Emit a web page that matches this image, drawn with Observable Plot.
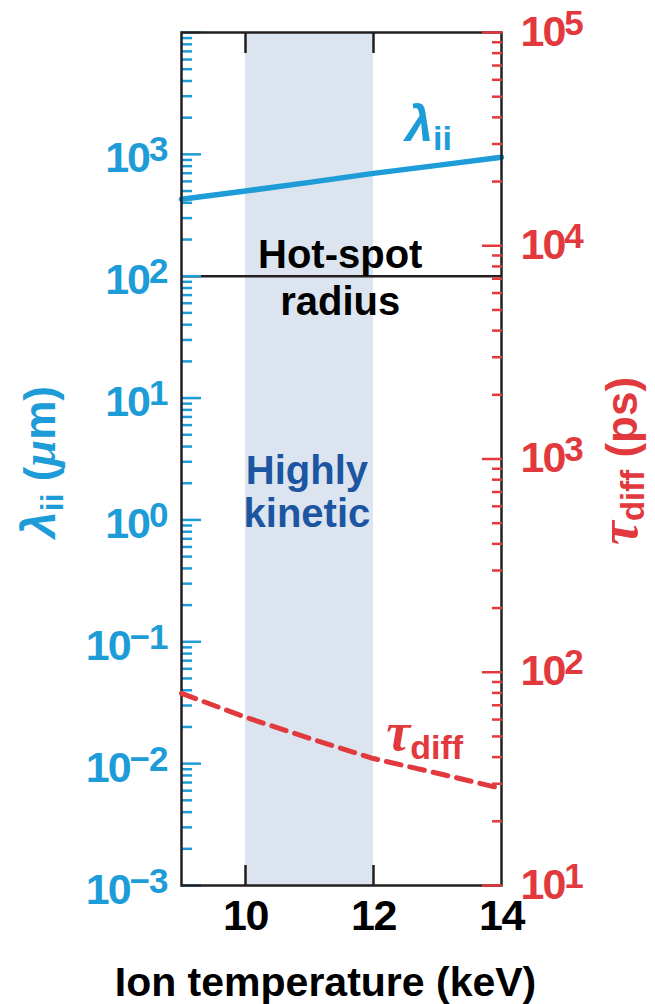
<!DOCTYPE html>
<html><head><meta charset="utf-8">
<script src="https://cdn.jsdelivr.net/npm/d3@7"></script>
<script src="https://cdn.jsdelivr.net/npm/@observablehq/plot@0.6"></script>
<style>
html,body{margin:0;padding:0;background:#fff;}
#wrap{position:relative;width:655px;height:1004px;overflow:hidden;background:#fff;}
#wrap svg{position:absolute;left:0;top:0;}
</style></head><body><div id="wrap"></div>
<script>
// ---- data ----
const temperature = [9, 10, 11, 12, 13, 14];            // keV
const lambdaII = [428, 500, 589, 698, 812, 945];        // µm (left axis)
const tauDiff = [79.6, 61.5, 49, 39.4, 33.6, 28.5];     // ps (right axis)
const hotSpotRadius = [100];                            // µm
const kineticBand = [{start: 10, end: 12}];             // keV
const xTicks = [10, 12, 14];
const leftTickExponents = [-3, -2, -1, 0, 1, 2, 3, 4];
const leftLabelExponents = [-3, -2, -1, 0, 1, 2, 3];
const rightExponents = [1, 2, 3, 4, 5];
const xLabel = "Ion temperature (keV)";
const leftLabel = "λii (μm)";
const rightLabel = "τdiff (ps)";
const hotSpotText = "Hot-spot\nradius";
const kineticText = "Highly\nkinetic";
const kineticAt = {t: 10.96, v: 1.71};
const lambdaTextAt = {t: 12.86, v: 1700};
const tauTextAt = {t: 12.8, v: 50.6};
const hotSpotTextAt = {t: 11.48};

// ---- derived ----
const lambdaRows = temperature.map((t, i) => ({t, v: lambdaII[i]}));
const tauRows = temperature.map((t, i) => ({t, v: tauDiff[i]}));
const minors = (lo, hi) => { const a = []; for (let k = lo; k < hi; k++) for (let m = 2; m <= 9; m++) a.push(m * 10 ** k); return a; };
const leftMajor = leftTickExponents.map(e => 10 ** e);
const leftMinor = minors(-3, 4);
const rightMajor = rightExponents.map(e => 10 ** e);
const rightMinor = minors(1, 5);

const W = 655, H = 1004;
const M = {marginLeft: 181, marginRight: 154, marginTop: 32, marginBottom: 119};
const FONT = "'Liberation Sans', Arial, Helvetica, sans-serif";
const SERIF = "'Liberation Serif', 'DejaVu Serif', serif";
const BLUE = "#1e9cd8", RED = "#e1393e", NAVY = "#1c55a1", INK = "#231f20", BAND = "#dce5ef";
const bold = {fontWeight: "bold"};

const p1 = Plot.plot({
  width: W, height: H, ...M,
  style: {fontFamily: FONT, background: "transparent", overflow: "visible"},
  x: {type: "linear", domain: [9, 14], axis: null},
  y: {type: "log", domain: [1e-3, 1e4], axis: null},
  marks: [
    Plot.rect(kineticBand, {x1: "start", x2: "end", fill: BAND}),
    Plot.ruleY(hotSpotRadius, {stroke: INK, strokeWidth: 2.5}),
    Plot.line(lambdaRows, {x: "t", y: "v", stroke: BLUE, strokeWidth: 5.5}),
    Plot.axisY({ticks: leftMajor, anchor: "left", tickSize: -20, stroke: BLUE, strokeWidth: 2.5, fill: "none", label: null, tickFormat: () => ""}),
    Plot.axisY({ticks: leftMinor, anchor: "left", tickSize: -11, stroke: BLUE, strokeWidth: 2.5, fill: "none", label: null, tickFormat: () => ""}),
    Plot.axisX({ticks: [10, 12], anchor: "bottom", tickSize: -20, stroke: INK, strokeWidth: 2.5, fill: "none", label: null, tickFormat: () => ""}),
    Plot.axisX({ticks: [10, 12], anchor: "top", tickSize: -20, stroke: INK, strokeWidth: 2.5, fill: "none", label: null, tickFormat: () => ""}),
    Plot.frame({stroke: INK, strokeWidth: 2.5}),
    Plot.text(leftLabelExponents, {y: d => 10 ** d, text: d => "10^" + d, frameAnchor: "left", textAnchor: "end", lineAnchor: "bottom", dx: -14, dy: 18, fill: BLUE, fontSize: 43, ...bold}),
    Plot.text(xTicks, {x: d => d, text: d => String(d), frameAnchor: "bottom", lineAnchor: "top", dy: 14, fill: "#000", fontSize: 43, ...bold}),
    Plot.text([xLabel], {text: d => d, frameAnchor: "bottom", textAnchor: "middle", lineAnchor: "bottom", dx: -16, dy: 110, fill: "#000", fontSize: 41, ...bold}),
    Plot.text([leftLabel], {text: d => d, frameAnchor: "left", textAnchor: "middle", lineAnchor: "middle", rotate: -90, dx: -141, dy: 3, fill: BLUE, fontSize: 44, ...bold}),
    Plot.text([hotSpotText], {x: () => hotSpotTextAt.t, y: () => hotSpotRadius[0], text: d => d, lineAnchor: "middle", lineHeight: 1.18, fill: "#000", fontSize: 40, ...bold}),
    Plot.text([kineticText], {x: () => kineticAt.t, y: () => kineticAt.v, text: d => d, lineAnchor: "middle", lineHeight: 1.08, fill: NAVY, fontSize: 40, ...bold}),
    Plot.text(["λii"], {x: () => lambdaTextAt.t, y: () => lambdaTextAt.v, text: d => d, lineAnchor: "middle", fill: BLUE, fontSize: 46, ...bold})
  ]
});

const p2 = Plot.plot({
  width: W, height: H, ...M,
  style: {fontFamily: FONT, background: "transparent", overflow: "visible"},
  x: {type: "linear", domain: [9, 14], axis: null},
  y: {type: "log", domain: [10, 1e5], axis: null},
  marks: [
    Plot.line(tauRows, {x: "t", y: "v", stroke: RED, strokeWidth: 5, strokeDasharray: "15,9"}),
    Plot.axisY({ticks: rightMajor, anchor: "right", tickSize: -20, stroke: RED, strokeWidth: 2.5, fill: "none", label: null, tickFormat: () => ""}),
    Plot.axisY({ticks: rightMinor, anchor: "right", tickSize: -10, stroke: RED, strokeWidth: 2.5, fill: "none", label: null, tickFormat: () => ""}),
    Plot.text(rightExponents, {y: d => 10 ** d, text: d => "10^" + d, frameAnchor: "right", textAnchor: "start", lineAnchor: "bottom", dx: 19, dy: 13, fill: RED, fontSize: 43, ...bold}),
    Plot.text([rightLabel], {text: d => d, frameAnchor: "right", textAnchor: "middle", lineAnchor: "middle", rotate: -90, dx: 121, dy: 2, fill: RED, fontSize: 44, ...bold}),
    Plot.text(["τdiff"], {x: () => tauTextAt.t, y: () => tauTextAt.v, text: d => d, lineAnchor: "middle", fill: RED, fontSize: 46, ...bold})
  ]
});

const wrap = document.getElementById("wrap");
wrap.appendChild(p1);
wrap.appendChild(p2);

function rich(svg, match, parts) {
  d3.select(svg).selectAll("text").filter(function() { return this.textContent === match; }).each(function() {
    const t = d3.select(this);
    t.text(null);
    for (const p of parts) {
      const s = t.append("tspan").text(p.t);
      if (p.size) s.attr("font-size", p.size);
      if (p.dy) s.attr("dy", p.dy);
      if (p.italic) s.attr("font-style", "italic");
      if (p.family) s.attr("font-family", p.family);
      if (p.ls != null) s.attr("letter-spacing", p.ls);
    }
  });
}
function exponents(svg) {
  d3.select(svg).selectAll("text").filter(function() { return /^10\^-?\d+$/.test(this.textContent); }).each(function() {
    const e = this.textContent.slice(3).replace("-", "−");
    const t = d3.select(this);
    t.text(null);
    t.append("tspan").attr("letter-spacing", -2).text("10");
    t.append("tspan").attr("font-size", 35).attr("dy", -11).attr("letter-spacing", -1).text(e);
  });
}
exponents(p1); exponents(p2);
rich(p1, leftLabel, [{t: "λ", size: 48, italic: true}, {t: "ii", size: 32, dy: 8}, {t: " (", size: 44, dy: -8}, {t: "μ", size: 48, italic: true, family: SERIF}, {t: "m)", size: 44}]);
rich(p2, rightLabel, [{t: "τ", size: 54, italic: true, family: SERIF}, {t: "diff", size: 33, dy: 7}, {t: " (ps)", size: 44, dy: -7}]);
rich(p1, "λii", [{t: "λ", size: 50, italic: true}, {t: "ii", size: 34, dy: 9}]);
rich(p2, "τdiff", [{t: "τ", size: 54, italic: true, family: SERIF}, {t: "diff", size: 34, dy: 9}]);
d3.select(p1).selectAll("text").filter(function() { return /^1[024]$/.test(this.textContent); }).attr("letter-spacing", -1.5);
</script></body></html>
